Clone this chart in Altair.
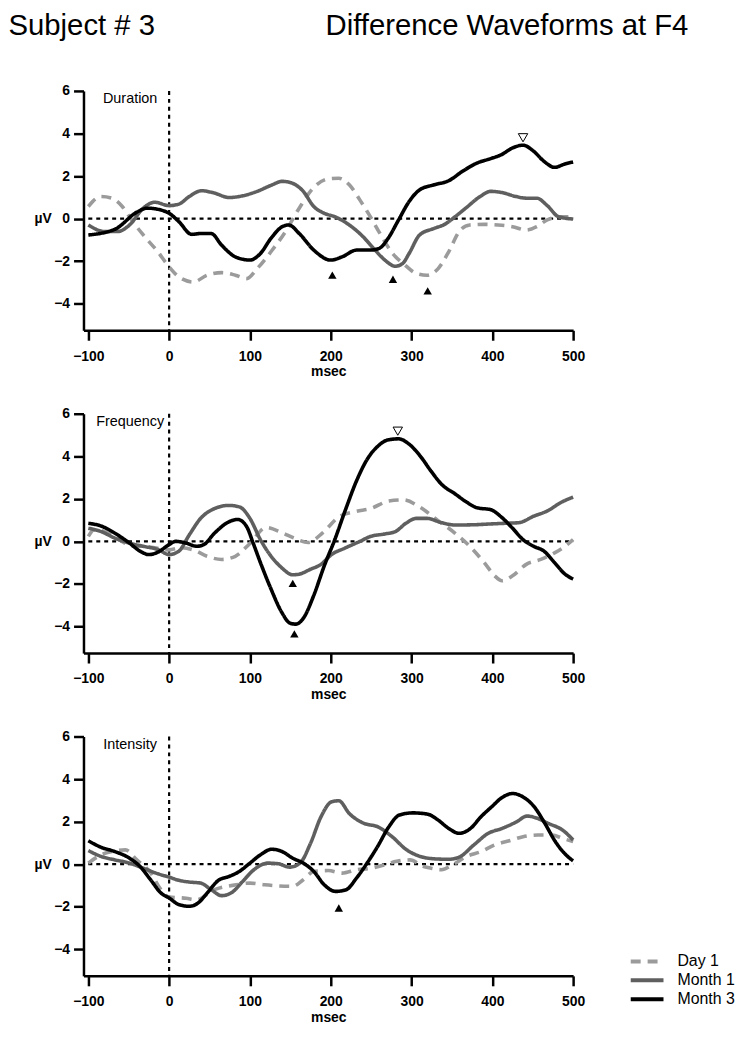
import altair as alt
import pandas as pd

TITLE_LEFT = "Subject # 3"
TITLE_RIGHT = "Difference Waveforms at F4"
SERIES = ["Day 1", "Month 1", "Month 3"]
SERIES_COLORS = ["#9b9b9b", "#5f5f5f", "#000000"]
SERIES_DASH = [[10, 7], [1, 0], [1, 0]]
PANEL_NAMES = ["Duration", "Frequency", "Intensity"]
X_TICKS = [-100, 0, 100, 200, 300, 400, 500]
Y_TICKS = [-4, -2, 0, 2, 4, 6]

# ---------------- Duration ----------------
dur_day1_t = [-100, -84, -71, -58, -45, -32, -14, 0, 12, 30, 47, 65, 82, 96, 109, 126, 144, 161, 179, 197, 210,
              223, 236, 249, 262, 275, 293, 306, 319, 333, 346, 359, 372, 390, 407, 425, 442, 455, 468, 486, 500]
dur_day1_v = [0.57, 1.04, 0.96, 0.57, -0.14, -0.77, -1.56, -2.27, -2.74, -2.98, -2.66, -2.54, -2.66, -2.82, -2.35,
              -1.56, -0.61, 0.49, 1.46, 1.87, 1.9, 1.59, 0.88, 0.09, -0.77, -1.56, -2.22, -2.58, -2.66, -2.35, -1.56,
              -0.61, -0.3, -0.27, -0.3, -0.38, -0.54, -0.38, -0.06, 0.09, 0.09]
dur_m1_t = [-100, -80, -64, -49, -32, -18, 0, 12, 25, 40, 56, 74, 91, 109, 126, 140, 152, 166, 179, 192, 205, 223,
            240, 253, 267, 280, 289, 297, 310, 328, 341, 354, 367, 385, 398, 411, 429, 442, 455, 468, 482, 500]
dur_m1_v = [-0.3, -0.61, -0.61, -0.3, 0.49, 0.77, 0.61, 0.68, 1.04, 1.31, 1.2, 0.99, 1.07, 1.28, 1.56, 1.75, 1.67,
            1.28, 0.57, 0.25, 0.09, -0.3, -0.85, -1.4, -1.95, -2.24, -2.11, -1.64, -0.77, -0.46, -0.27, 0.09, 0.49,
            1.04, 1.28, 1.23, 1.04, 0.96, 0.96, 0.61, 0.09, -0.02]
dur_m3_t = [-100, -67, -40, -27, -10, 0, 12, 28, 39, 52, 65, 82, 100, 113, 126, 140, 148, 161, 179, 200, 214, 232,
            249, 260, 271, 284, 297, 310, 328, 346, 363, 381, 398, 411, 425, 438, 451, 464, 477, 490, 500]
dur_m3_v = [-0.77, -0.5, 0.3, 0.49, 0.4, 0.25, -0.14, -0.74, -0.7, -0.7, -1.25, -1.8, -1.95, -1.64, -0.93, -0.38,
            -0.3, -0.7, -1.48, -1.95, -1.8, -1.48, -1.48, -1.4, -0.93, -0.06, 0.8, 1.35, 1.59, 1.78, 2.22, 2.61, 2.82,
            3.0, 3.32, 3.45, 3.17, 2.69, 2.41, 2.57, 2.66]
dur_peak_t = [202, 277, 320, 438]
dur_peak_v = [-2.66, -2.85, -3.4, 3.8]
dur_peak_kind = ["neg", "neg", "neg", "pos"]

# ---------------- Frequency ----------------
frq_day1_t = [-100, -93, -80, -62, -45, -32, -18, 0, 15, 30, 47, 65, 82, 100, 120, 140, 155, 172, 190, 210, 230,
              250, 272, 290, 310, 332, 354, 372, 390, 403, 412, 425, 442, 460, 477, 490, 500]
frq_day1_v = [0.23, 0.54, 0.46, 0.08, -0.23, -0.23, -0.3, -0.4, -0.3, -0.4, -0.7, -0.85, -0.7, -0.1, 0.65, 0.4, 0.15,
              -0.05, 0.4, 1.15, 1.4, 1.55, 1.9, 1.95, 1.62, 1.0, 0.38, -0.23, -1.0, -1.62, -1.85, -1.62, -1.08, -0.85,
              -0.54, -0.23, 0.08]
frq_m1_t = [-100, -84, -67, -49, -32, -14, 0, 12, 25, 39, 56, 74, 87, 100, 113, 126, 139, 153, 161, 175, 188, 201,
            218, 236, 249, 267, 280, 293, 306, 319, 337, 354, 376, 398, 416, 433, 451, 468, 486, 500]
frq_m1_v = [0.62, 0.46, 0.15, -0.08, -0.23, -0.38, -0.62, -0.46, 0.31, 1.08, 1.54, 1.69, 1.62, 1.08, 0.08, -0.69,
            -1.23, -1.57, -1.54, -1.31, -1.08, -0.62, -0.31, 0, 0.23, 0.35, 0.46, 0.85, 1.08, 1.08, 0.88, 0.77, 0.78,
            0.82, 0.85, 0.88, 1.18, 1.43, 1.85, 2.08]
frq_m3_t = [-100, -84, -67, -49, -36, -25, -14, 0, 8, 21, 34, 43, 56, 74, 85, 96, 104, 113, 126, 139, 150, 157, 166,
            179, 192, 205, 218, 232, 245, 258, 271, 284, 297, 311, 324, 337, 354, 368, 381, 398, 411, 425, 438, 451,
            464, 477, 490, 500]
frq_m3_v = [0.85, 0.72, 0.38, -0.08, -0.46, -0.62, -0.51, -0.15, 0, -0.08, -0.23, -0.15, 0.38, 0.92, 1.03, 0.69,
            -0.08, -1.0, -2.23, -3.31, -3.85, -3.89, -3.62, -2.54, -1.15, 0.08, 1.46, 2.85, 3.85, 4.46, 4.77, 4.82,
            4.57, 4.0, 3.31, 2.69, 2.23, 1.85, 1.58, 1.49, 1.15, 0.62, 0.08, -0.23, -0.46, -1.0, -1.54, -1.77]
frq_peak_t = [153, 155, 283]
frq_peak_v = [-1.97, -4.35, 5.18]
frq_peak_kind = ["neg", "neg", "pos"]

# ---------------- Intensity ----------------
int_day1_t = [-100, -84, -71, -54, -40, -23, -10, 0, 21, 34, 56, 83, 100, 118, 153, 166, 179, 197, 214, 232, 250,
              267, 280, 298, 315, 324, 337, 351, 368, 386, 403, 421, 438, 456, 474, 487, 500]
int_day1_v = [0.05, 0.44, 0.59, 0.67, 0.2, -0.4, -1.2, -1.55, -1.6, -1.67, -1.2, -0.97, -0.89, -0.97, -1.04, -0.73,
              -0.34, -0.3, -0.42, -0.26, -0.19, -0.03, 0.12, 0.2, -0.11, -0.19, -0.26, -0.03, 0.36, 0.59, 0.9, 1.1,
              1.29, 1.37, 1.37, 1.21, 1.06]
int_m1_t = [-100, -84, -67, -49, -32, -14, 0, 12, 25, 39, 52, 65, 78, 91, 105, 122, 135, 149, 162, 175, 188, 201,
            210, 223, 241, 258, 276, 293, 311, 329, 346, 359, 377, 395, 412, 430, 443, 456, 469, 487, 500]
int_m1_v = [0.64, 0.36, 0.2, 0.05, -0.19, -0.45, -0.61, -0.76, -0.84, -0.89, -1.2, -1.48, -1.32, -0.81, -0.26, 0.05,
            0.02, -0.14, 0.05, 0.98, 2.23, 2.93, 2.98, 2.38, 1.92, 1.76, 1.29, 0.7, 0.36, 0.25, 0.23, 0.33, 0.9, 1.45,
            1.68, 1.99, 2.26, 2.15, 1.92, 1.6, 1.14]
int_m3_t = [-100, -84, -67, -49, -36, -23, -10, 0, 12, 25, 36, 47, 61, 74, 87, 100, 113, 127, 140, 153, 166, 179,
            192, 206, 219, 232, 245, 258, 272, 285, 302, 320, 333, 346, 359, 373, 386, 399, 412, 425, 438, 452, 465,
            478, 491, 500]
int_m3_v = [1.1, 0.79, 0.59, 0.28, -0.11, -0.73, -1.36, -1.59, -1.9, -1.98, -1.82, -1.36, -0.76, -0.58, -0.34, 0.05,
            0.44, 0.7, 0.59, 0.28, 0.05, -0.34, -0.97, -1.28, -1.2, -0.65, 0.05, 0.83, 1.76, 2.31, 2.41, 2.35, 2.07,
            1.68, 1.45, 1.68, 2.23, 2.69, 3.13, 3.32, 3.16, 2.69, 1.92, 1.06, 0.44, 0.16]
int_peak_t = [210]
int_peak_v = [-2.06]
int_peak_kind = ["neg"]

PANEL_DATA = [
    ({"Day 1": (dur_day1_t, dur_day1_v), "Month 1": (dur_m1_t, dur_m1_v), "Month 3": (dur_m3_t, dur_m3_v)},
     (dur_peak_t, dur_peak_v, dur_peak_kind)),
    ({"Day 1": (frq_day1_t, frq_day1_v), "Month 1": (frq_m1_t, frq_m1_v), "Month 3": (frq_m3_t, frq_m3_v)},
     (frq_peak_t, frq_peak_v, frq_peak_kind)),
    ({"Day 1": (int_day1_t, int_day1_v), "Month 1": (int_m1_t, int_m1_v), "Month 3": (int_m3_t, int_m3_v)},
     (int_peak_t, int_peak_v, int_peak_kind)),
]

FONT = "Liberation Sans, Arial, Helvetica, sans-serif"
W, H = 493, 241

x_scale = alt.Scale(domain=[-106, 500], nice=False, zero=False)
y_scale = alt.Scale(domain=[-5.25, 6], nice=False, zero=False)
color_scale = alt.Scale(domain=SERIES, range=SERIES_COLORS)
dash_scale = alt.Scale(domain=SERIES, range=SERIES_DASH)

x_axis = alt.Axis(values=X_TICKS, title="msec", labelPadding=9, titlePadding=2, labelFlush=False)
y_axis = alt.Axis(values=Y_TICKS, title="µV", titleAngle=0, titleX=-41, titleY=128.5, titleAlign="center",
                  titleBaseline="middle", labelPadding=4, labelFlush=False)


def make_panel(idx):
    name = PANEL_NAMES[idx]
    series_data, peaks = PANEL_DATA[idx]
    rows = []
    for s in SERIES:
        t, v = series_data[s]
        for a, b in zip(t, v):
            rows.append({"ms": a, "uv": b, "series": s})
    df = pd.DataFrame(rows)
    pk = pd.DataFrame({"ms": peaks[0], "uv": peaks[1], "kind": peaks[2]})

    if idx == 2:
        legend = alt.Legend(orient="none", legendX=557, legendY=216, direction="vertical",
                            symbolType="M-2,0H2", symbolSize=272, symbolStrokeWidth=4,
                            labelFont=FONT, labelFontSize=16, labelColor="black",
                            labelOffset=20, rowPadding=0, padding=0)
    else:
        legend = None

    X = alt.X("ms:Q", scale=x_scale, axis=x_axis)
    Y = alt.Y("uv:Q", scale=y_scale, axis=y_axis)

    zero_h = alt.Chart(pd.DataFrame({"a": [X_TICKS[0]], "b": [X_TICKS[-1]], "z": [0]})).mark_rule(
        color="black", strokeWidth=2.2, strokeDash=[4, 4]).encode(
        x=alt.X("a:Q", scale=x_scale, axis=x_axis), x2="b:Q", y=alt.Y("z:Q", scale=y_scale, axis=y_axis))
    zero_v = alt.Chart(pd.DataFrame({"a": [0]})).mark_rule(
        color="black", strokeWidth=2.2, strokeDash=[4, 4]).encode(
        x=alt.X("a:Q", scale=x_scale, axis=x_axis))

    lines = alt.Chart(df).mark_line(strokeWidth=3.6, interpolate="monotone").encode(
        x=X, y=Y,
        color=alt.Color("series:N", scale=color_scale, legend=legend, title=None),
        strokeDash=alt.StrokeDash("series:N", scale=dash_scale, legend=legend, title=None),
        detail="series:N",
    )
    neg = alt.Chart(pk).transform_filter(alt.datum.kind == "neg").mark_point(
        shape="triangle-up", filled=True, color="black", size=72, opacity=1).encode(x=X, y=Y)
    pos = alt.Chart(pk).transform_filter(alt.datum.kind == "pos").mark_point(
        shape="triangle-down", filled=False, fill="white", stroke="black", strokeWidth=1, size=90,
        opacity=1).encode(x=X, y=Y)

    label = alt.Chart(pd.DataFrame({"label": [name]})).mark_text(
        align="center", baseline="alphabetic", font=FONT, fontSize=14.5, color="black").encode(
        text="label:N", x=alt.value(47), y=alt.value(12.5))

    layers = [zero_h, zero_v, lines, neg, pos, label]
    if idx == 0:
        t1 = alt.Chart(pd.DataFrame({"label": [TITLE_LEFT]})).mark_text(
            align="left", baseline="alphabetic", font=FONT, fontSize=29.5, color="black").encode(
            text="label:N", x=alt.value(-75.5), y=alt.value(-56))
        t2 = alt.Chart(pd.DataFrame({"label": [TITLE_RIGHT]})).mark_text(
            align="left", baseline="alphabetic", font=FONT, fontSize=29.5, color="black").encode(
            text="label:N", x=alt.value(243.7), y=alt.value(-56))
        layers += [t1, t2]
    return alt.layer(*layers).properties(width=W, height=H)


chart = alt.vconcat(make_panel(0), make_panel(1), make_panel(2), spacing=84, bounds="flush").resolve_legend(
    color="independent", strokeDash="independent"
).configure_view(stroke=None).configure_axis(
    domainColor="black", domainWidth=2.5, tickColor="black", tickWidth=2.5, tickSize=10,
    labelFont=FONT, labelFontSize=14, labelFontWeight="bold", labelColor="black",
    titleFont=FONT, titleFontSize=14, titleFontWeight="bold", titleColor="black", grid=False,
).properties(padding={"left": 0, "top": 0, "right": 2, "bottom": 2}, background="white")

chart.save("out.html", embed_options={"renderer": "svg", "actions": False})
